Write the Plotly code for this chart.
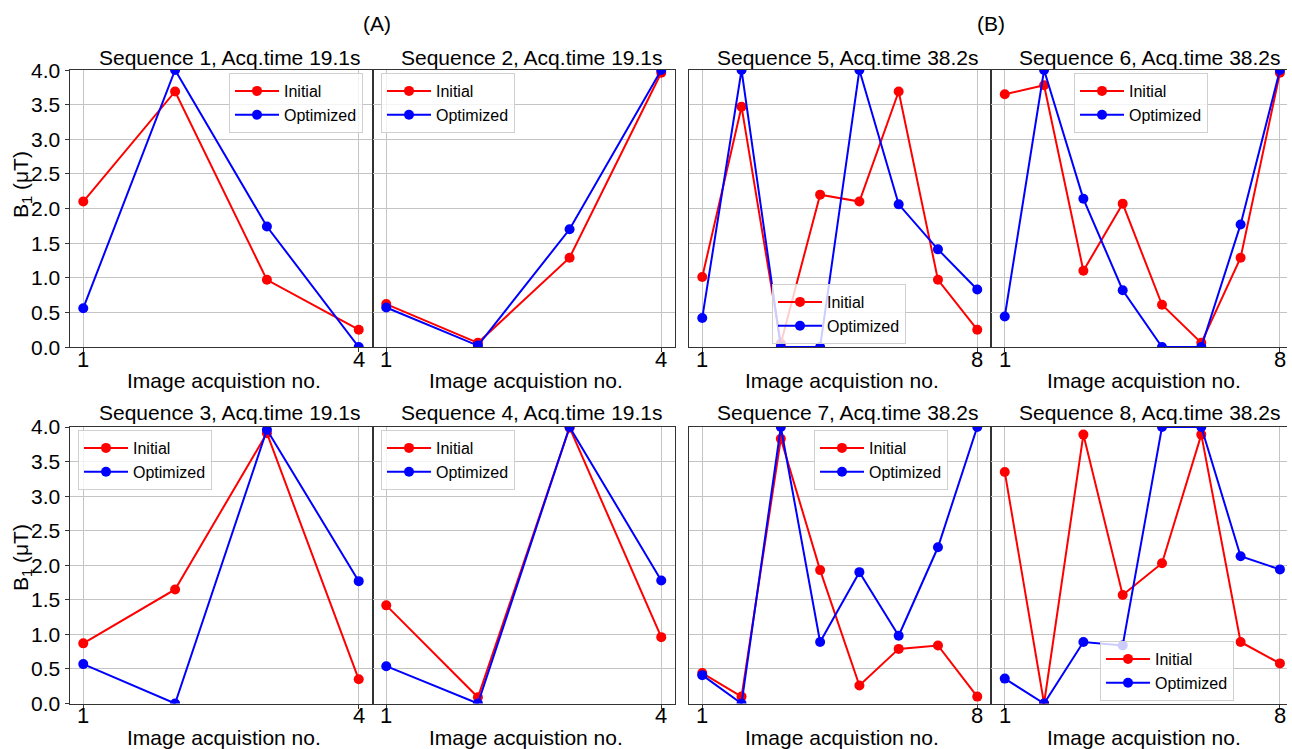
import plotly.graph_objects as go

W, H = 1292, 749

# acquisition indices
acq4 = [1, 2, 3, 4]
acq8 = [1, 2, 3, 4, 5, 6, 7, 8]

# B1 amplitudes (uT) per image acquisition
seq1_initial = [2.10, 3.69, 0.97, 0.25]
seq1_optimized = [0.56, 4.00, 1.74, 0.00]

seq2_initial = [0.62, 0.06, 1.29, 3.96]
seq2_optimized = [0.57, 0.02, 1.70, 4.00]

seq3_initial = [0.87, 1.65, 3.91, 0.35]
seq3_optimized = [0.57, 0.00, 3.96, 1.77]

seq4_initial = [1.42, 0.09, 3.99, 0.96]
seq4_optimized = [0.54, 0.00, 4.00, 1.78]

seq5_initial = [1.01, 3.47, 0.05, 2.20, 2.10, 3.69, 0.97, 0.25]
seq5_optimized = [0.42, 4.00, 0.00, 0.00, 4.00, 2.06, 1.41, 0.83]

seq6_initial = [3.65, 3.78, 1.10, 2.07, 0.61, 0.06, 1.29, 3.96]
seq6_optimized = [0.44, 4.00, 2.14, 0.82, 0.00, 0.00, 1.77, 4.00]

seq7_initial = [0.44, 0.10, 3.83, 1.93, 0.26, 0.79, 0.84, 0.10]
seq7_optimized = [0.41, 0.00, 4.00, 0.89, 1.90, 0.98, 2.26, 4.00]

seq8_initial = [3.35, 0.00, 3.89, 1.57, 2.03, 3.89, 0.89, 0.58]
seq8_optimized = [0.36, 0.00, 0.89, 0.84, 4.00, 4.00, 2.13, 1.94]

acq_times = {4: "19.1s", 8: "38.2s"}
y_ticks = [0.0, 0.5, 1.0, 1.5, 2.0, 2.5, 3.0, 3.5, 4.0]

FONT = "Liberation Sans, Arial, sans-serif"
GRID = "#c4c4c4"
SPINE = "#333333"

# panel placement in pixels: (left, right) columns, (top, bottom) rows
cols_px = [(69.5, 372.5), (372.5, 675.0), (688.5, 991.0), (991.0, 1287.0)]
rows_px = [(70.0, 347.0), (427.0, 703.5)]

# (sequence no., acquisitions, initial, optimized, row, col, legend top-left px)
panels = [
    (1, acq4, seq1_initial, seq1_optimized, 0, 0, (229, 73)),
    (2, acq4, seq2_initial, seq2_optimized, 0, 1, (381, 73)),
    (5, acq8, seq5_initial, seq5_optimized, 0, 2, (772, 284)),
    (6, acq8, seq6_initial, seq6_optimized, 0, 3, (1074, 73)),
    (3, acq4, seq3_initial, seq3_optimized, 1, 0, (78, 430)),
    (4, acq4, seq4_initial, seq4_optimized, 1, 1, (381, 430)),
    (7, acq8, seq7_initial, seq7_optimized, 1, 2, (814, 430)),
    (8, acq8, seq8_initial, seq8_optimized, 1, 3, (1100, 641)),
]

title_cx = [230, 532, 848, 1150]
xlabel_cx = [223.5, 526, 842, 1144]
title_cy = [57, 413]
xlabel_cy = [380, 737]
xtick_cy = [359, 715]
ytick_right = 62


def px_x(v):
    return v / W


def px_y(v):
    return 1 - v / H


fig = go.Figure()
annotations = []
layout = dict(
    width=W, height=H,
    margin=dict(l=0, r=0, t=0, b=0, autoexpand=False),
    paper_bgcolor="white", plot_bgcolor="white",
    font=dict(family=FONT, size=21, color="#000000"),
)

for i, (seq, acq, init, opt, r, c, leg) in enumerate(panels):
    k = i + 1
    xa = "x" if k == 1 else f"x{k}"
    ya = "y" if k == 1 else f"y{k}"
    lg = "legend" if k == 1 else f"legend{k}"
    n = len(acq)
    pad = 0.05 * (n - 1)
    x_hi = n + pad
    if c == 3:
        x_hi = n + 0.18
    fig.add_trace(go.Scatter(
        x=acq, y=init, mode="lines+markers", name="Initial",
        line=dict(color="#ff0000", width=2), marker=dict(color="#ff0000", size=10),
        xaxis=xa, yaxis=ya, legend=lg,
    ))
    fig.add_trace(go.Scatter(
        x=acq, y=opt, mode="lines+markers", name="Optimized",
        line=dict(color="#0000ff", width=2), marker=dict(color="#0000ff", size=10),
        xaxis=xa, yaxis=ya, legend=lg,
    ))
    l, rr = cols_px[c]
    t, b = rows_px[r]
    x_ticks = [1, n]
    layout["xaxis" if k == 1 else f"xaxis{k}"] = dict(
        domain=[px_x(l), px_x(rr)], anchor=ya,
        range=[1 - pad, x_hi],
        tickmode="array", tickvals=x_ticks, showticklabels=False,
        ticks="outside", ticklen=4, tickcolor=SPINE, tickwidth=1,
        showgrid=True, gridcolor=GRID, gridwidth=1,
        showline=True, linecolor=SPINE, linewidth=1, mirror=True,
        zeroline=False, automargin=False,
    )
    layout["yaxis" if k == 1 else f"yaxis{k}"] = dict(
        domain=[px_y(b), px_y(t)], anchor=xa,
        range=[0, 4],
        tickmode="array", tickvals=y_ticks, showticklabels=False,
        ticks="outside" if c == 0 else "", ticklen=4, tickcolor=SPINE, tickwidth=1,
        showgrid=True, gridcolor=GRID, gridwidth=1,
        showline=True, linecolor=SPINE, linewidth=1, mirror=(c != 3),
        zeroline=False, automargin=False,
    )
    layout[lg] = dict(
        x=px_x(leg[0]), y=px_y(leg[1]), xanchor="left", yanchor="top",
        bgcolor="rgba(255,255,255,0.8)", bordercolor="#d0d0d0", borderwidth=1,
        font=dict(family=FONT, size=16, color="#000000"),
        tracegroupgap=0, itemwidth=44,
    )
    # tick labels placed on the axis scale
    for v in x_ticks:
        annotations.append(dict(
            text=str(v), x=v, xref=xa, y=px_y(xtick_cy[r]), yref="paper",
            xanchor="center", yanchor="middle", showarrow=False,
            font=dict(family=FONT, size=22),
        ))
    if c == 0:
        for v in y_ticks:
            annotations.append(dict(
                text=f"{v:.1f}", x=px_x(ytick_right), xref="paper", y=v, yref=ya,
                xanchor="right", yanchor="middle", showarrow=False,
                font=dict(family=FONT, size=21),
            ))
    annotations.append(dict(
        text=f"Sequence {seq}, Acq.time {acq_times[n]}",
        x=px_x(title_cx[c]), y=px_y(title_cy[r]), xref="paper", yref="paper",
        xanchor="center", yanchor="middle", showarrow=False,
        font=dict(family=FONT, size=21),
    ))
    annotations.append(dict(
        text="Image acquistion no.",
        x=px_x(xlabel_cx[c]), y=px_y(xlabel_cy[r]), xref="paper", yref="paper",
        xanchor="center", yanchor="middle", showarrow=False,
        font=dict(family=FONT, size=21),
    ))

for cy in (185, 558):
    annotations.append(dict(
        text="B<sub>1</sub> (μT)", textangle=-90,
        x=px_x(22), y=px_y(cy), xref="paper", yref="paper",
        xanchor="center", yanchor="middle", showarrow=False,
        font=dict(family=FONT, size=21),
    ))

for label, cx in (("(A)", 377), ("(B)", 991)):
    annotations.append(dict(
        text=label, x=px_x(cx), y=px_y(23), xref="paper", yref="paper",
        xanchor="center", yanchor="middle", showarrow=False,
        font=dict(family=FONT, size=21),
    ))

layout["annotations"] = annotations
fig.update_layout(**layout)
fig.write_html("out.html")
